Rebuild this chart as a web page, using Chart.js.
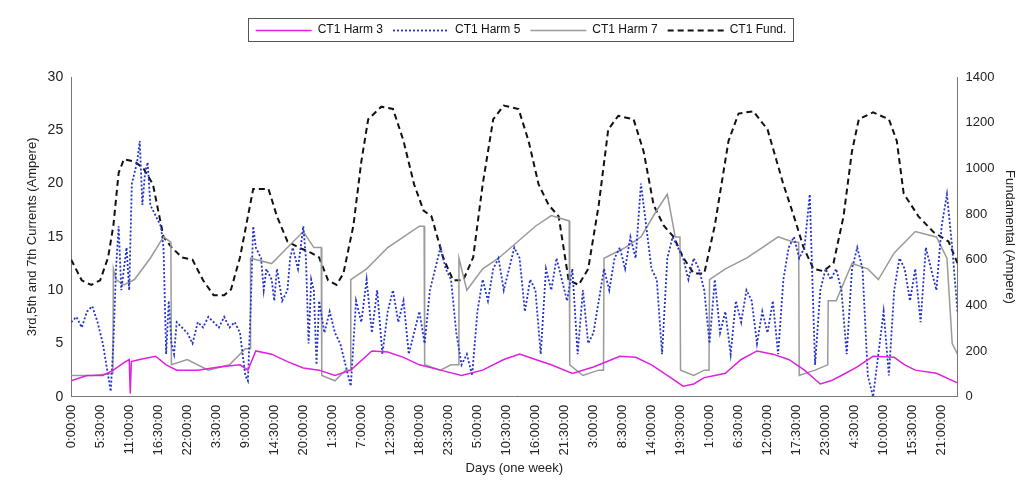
<!DOCTYPE html>
<html>
<head>
<meta charset="utf-8">
<script src="https://cdn.jsdelivr.net/npm/chart.js@4/dist/chart.umd.min.js"></script>
<style>
  html, body { margin: 0; padding: 0; background: #fff; }
  #wrap { width: 1028px; height: 503px; }
</style>
</head>
<body>
<div id="wrap"><canvas id="chart"></canvas></div>
<script>
// hours since start of the week
var fundHours = [0,2,3.8,5.5,7,8,9,10,12,13.7,15.5,17.5,19,21,23,25,27,29,30.3,32,33.5,34.5,36,37.4,39,41,43,45.5,47,48.7,50.3,51.6,53.5,55,56.3,58.8,61,63,65,66.8,68.3,70.5,72.4,74.3,76.2,78,80,82,84.8,86.7,88.6,90.5,92.4,94.3,96.2,98,100,101.8,103.7,106.6,108.5,110.4,112.3,114.2,116,118,120,122,124.6,126.5,129.3,132,135,137,138.8,140.7,142.6,144.5,146.4,148,149.3,152,155,156.5,157.8,160.6,163.5,166.3,168];
var fundValues = [600,510,490,510,610,750,980,1040,1030,1000,930,700,655,610,600,510,445,445,470,610,790,910,910,910,790,680,655,630,610,510,490,540,750,1030,1215,1270,1260,1120,930,815,790,610,510,510,610,930,1215,1275,1260,1120,930,840,790,510,490,560,840,1170,1230,1215,1075,840,750,700,610,540,540,750,1120,1240,1250,1170,930,790,655,560,550,585,790,1075,1215,1245,1215,1120,890,790,720,680,585];

var h3Hours = [0,3,6,8,10,11,11.2,11.4,13,16,18,20,24,28,32,33.5,35,38,41,44,47,50,53,57,60,63,66,70,74,78,82,85,88,91,95,99,104,107,110,113,116,118,120,122,124,127,130,133,136,139,142,144,146,149,152,156,158,160,164,168];
var h3Values = [1.5,2,2,2.5,3.2,3.5,0.3,3.3,3.5,3.8,3,2.5,2.5,2.8,3,2.5,4.3,4,3.3,2.7,2.5,2,2.5,4.3,4.2,3.7,3,2.5,2,2.5,3.5,4,3.5,3,2.2,2.8,3.8,3.7,3,2,1,1.2,1.8,2,2.2,3.5,4.3,4,3.5,2.5,1.2,1.5,2,2.8,3.8,3.7,3,2.5,2.2,1.3];

var h7Hours = [0,4,7.9,8,8.5,10,12,15,17.5,18.9,19,22,26,30,33,33.9,34,38,41,44,46,47.4,47.5,50,52,52.9,53,56,60,63,66,66.9,67,70,72,73.4,73.5,75,78,81,88,91,94.4,94.5,97,100,100.9,101,105,108,111,113,114.5,115.4,115.5,118,120,120.9,121,124,128,131,134,137,137.9,138,141,143.4,143.5,145,148,151,153,156,160,164,166,167,168];
var h7Values = [2,2,2.2,12,11,10.5,11,13,15,14.5,3,3.5,2.5,3,4.5,4.5,13,12.5,14,15.5,14,14,2,1.5,2.5,2.5,11,12,14,15,16,16,3,2.5,3,3,13,10,12,13,16,17,16.5,3,2,2.5,2.5,13,14,15,17.5,19,15,15,2.5,2,2.5,2.5,11,12,13,14,15,14.5,14.5,2,2.5,3,9,9,12.5,12,11,13.5,15.5,15,13,5,4];

var h5Hours = [0,1,2,3,4,5,6,7,7.5,8,8.5,9,9.5,10,10.5,11,11.5,12,12.5,13,13.5,14,14.5,15,16,17,17.5,18,18.5,19,19.5,20,21,22,23,24,25,26,27,28,29,30,31,32,33,33.5,34,34.5,35,36,36.5,37,38,38.5,39,40,41,41.5,42,43,43.5,44,44.5,45,45.5,46,46.5,47,48,48.5,49,50,51,52,53,54,55,56,57,58,59,60,61,62,63,64,65,66,67,68,69,70,71,72,73,74,75,76,77,78,79,80,81,82,83,84,85,86,87,88,89,90,91,92,93,94,95,96,97,98,99,100,101,102,103,104,105,106,107,108,109,110,111,112,113,114,115,116,117,118,119,120,121,122,123,124,125,126,127,128,129,130,131,132,133,134,135,136,137,138,139,140,141,142,143,144,145,146,147,148,149,150,151,152,153,154,155,156,157,158,159,160,161,162,163,164,165,166,167,168];
var h5Values = [7,7.5,6.5,8,8.5,7,5,2,0.5,5,12,16,10,12,14,10,20,21,22,24,18,21,22,18,17,16,14,4,9,5,4,7,6.5,6,5,7,6.5,7.5,7,6.5,7.5,6.5,7,6,2,1.5,8,16,14,13,10,12,11,9,12,9,10,13,14,12,14,16,13,5,11,10,3,9,6,7,8,6,5,3,1,9,7,11,6,10,4,8,10,7,9,4,6,8,5,10,12,14,12,11,6,3,4,2,8,11,9,12,13,10,12,14,13,8,11,10,4,12,10,13,11,9,12,4,10,5,6,9,12,10,13,14,12,15,13,20,16,12,11,4,13,15,14,13,11,13,12,10,5,11,6,8,4,9,7,10,9,5,8,6,9,4,11,14,15,13,14,19,3,10,12,11,12,10,4,12,14,12,2,0,4,8,2,10,13,12,9,12,7,14,12,10,16,19,14,8];

var seriesNames = ['CT1 Harm 3', 'CT1 Harm 5', 'CT1 Harm 7', 'CT1 Fund.'];

function pairs(xs, ys) {
    return xs.map(function(x, i){ return {x: x, y: ys[i]}; });
}

function timeLabel(h) {
    var t = Math.round(h * 60) % (24 * 60);
    var hh = Math.floor(t / 60);
    var mm = t % 60;
    return hh + ':' + (mm < 10 ? '0' : '') + mm + ':00';
}

var sampleWidth = 56;

// box round the legend, dashed line samples, room under the legend
var legendBorder = {
    id: 'legendBorder',
    beforeInit: function(chart){
        var fit = chart.legend.fit;
        chart.legend.fit = function(){
            fit.call(this);
            this.height += 31;
        };
    },
    afterDraw: function(chart){
        var boxes = chart.legend.legendHitBoxes;
        if (!boxes || !boxes.length) return;
        var ctx = chart.ctx;
        ctx.save();
        boxes.forEach(function(b, i){
            var ds = chart.data.datasets[i];
            var y = Math.round(b.top + b.height / 2) + 0.5;
            ctx.strokeStyle = ds.borderColor;
            ctx.lineWidth = ds.borderWidth;
            ctx.setLineDash(ds.borderDash || []);
            ctx.beginPath();
            ctx.moveTo(b.left, y);
            ctx.lineTo(b.left + sampleWidth, y);
            ctx.stroke();
        });
        var first = boxes[0], last = boxes[boxes.length - 1];
        ctx.setLineDash([]);
        ctx.strokeStyle = '#555';
        ctx.lineWidth = 1;
        ctx.strokeRect(Math.round(first.left) - 7.5, Math.round(first.top) - 5.5, Math.round(last.left + last.width - first.left) + 14, Math.round(first.height) + 11);
        ctx.restore();
    }
};

var font = {family: 'Liberation Sans, Arial, sans-serif', size: 13};

new Chart(document.getElementById('chart').getContext('2d'), {
    type: 'line',
    data: {
        datasets: [
            {label: seriesNames[0], data: pairs(h3Hours, h3Values), borderColor: '#e020e0', borderWidth: 1.5, yAxisID: 'y'},
            {label: seriesNames[1], data: pairs(h5Hours, h5Values), borderColor: '#2233cc', borderWidth: 1.8, borderDash: [2, 2], yAxisID: 'y'},
            {label: seriesNames[2], data: pairs(h7Hours, h7Values), borderColor: '#9a9a9a', borderWidth: 1.5, yAxisID: 'y'},
            {label: seriesNames[3], data: pairs(fundHours, fundValues), borderColor: '#111', borderWidth: 2, borderDash: [6, 4], yAxisID: 'y2'}
        ]
    },
    plugins: [legendBorder],
    options: {
        responsive: true,
        maintainAspectRatio: false,
        animation: false,
        elements: {point: {radius: 0}, line: {tension: 0}},
        layout: {padding: {left: 21, right: 7, top: 14, bottom: 25}},
        plugins: {
            tooltip: {enabled: false},
            legend: {
                position: 'top',
                labels: {
                    boxWidth: sampleWidth,
                    boxHeight: 0,
                    padding: 10,
                    color: '#111',
                    font: {family: font.family, size: 12},
                    generateLabels: function(chart){
                        return chart.data.datasets.map(function(ds, i){
                            return {text: ds.label, fillStyle: 'rgba(0,0,0,0)', strokeStyle: 'rgba(0,0,0,0)', lineWidth: 0, datasetIndex: i, fontColor: '#111'};
                        });
                    }
                }
            }
        },
        scales: {
            x: {
                type: 'linear',
                min: 0,
                max: 168,
                afterBuildTicks: function(axis){
                    var t = [];
                    for (var h = 0; h <= 165; h += 5.5) t.push({value: h});
                    axis.ticks = t;
                },
                grid: {display: false, drawTicks: true, tickLength: 5, color: '#777'},
                border: {color: '#777'},
                ticks: {
                    minRotation: 90, maxRotation: 90, autoSkip: false,
                    color: '#222', font: font,
                    callback: function(v){ return timeLabel(v); }
                },
                title: {display: true, text: 'Days (one week)', color: '#222', font: font, padding: 2}
            },
            y: {
                position: 'left',
                min: 0, max: 30,
                ticks: {stepSize: 5, color: '#222', font: {family: font.family, size: 14}},
                grid: {display: false, tickLength: 5},
                border: {color: '#777'},
                title: {display: true, text: '3rd,5th and 7th Currents (Ampere)', color: '#222', font: font}
            },
            y2: {
                position: 'right',
                min: 0, max: 1400,
                ticks: {stepSize: 200, color: '#222', font: font, callback: function(v){ return String(v); }},
                grid: {display: false, tickLength: 5},
                border: {color: '#777'},
                title: {display: true, text: 'Fundamental (Ampere)', color: '#222', font: font}
            }
        }
    }
});
</script>
</body>
</html>
